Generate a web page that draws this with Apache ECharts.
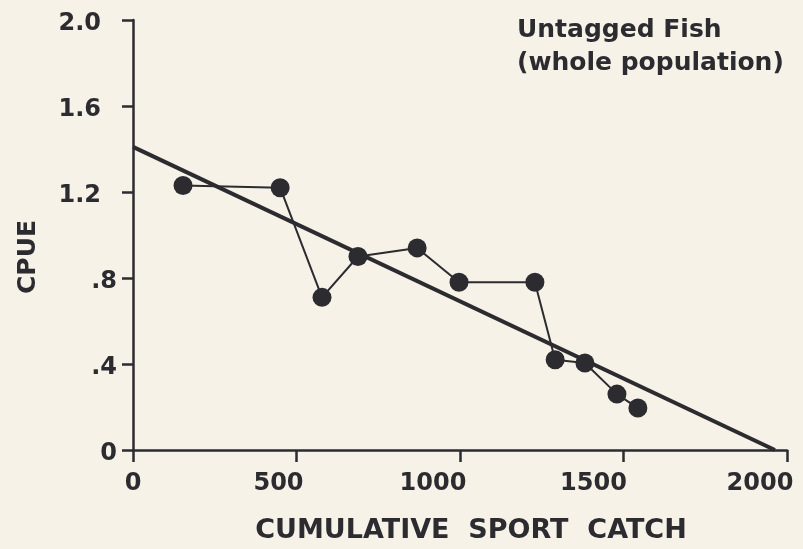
<!DOCTYPE html>
<html>
<head>
<meta charset="utf-8">
<script src="https://cdn.jsdelivr.net/npm/echarts@6/dist/echarts.min.js"></script>
<style>
  html, body { margin: 0; padding: 0; background: #f6f2e8; }
  #chart { width: 803px; height: 549px; }
</style>
</head>
<body>
<div id="chart"></div>
<script>
// Cumulative sport catch vs. catch per unit effort (untagged fish)
const cumulativeCatch = [153, 450, 578, 688, 869, 997, 1229, 1291, 1382, 1480, 1544];
const cpue = [1.23, 1.22, 0.71, 0.90, 0.94, 0.78, 0.78, 0.42, 0.405, 0.26, 0.195];

// Fitted depletion line (end points)
const fitX = [0, 1963];
const fitY = [1.41, 0];

const xTicks = ['0', '500', '1000', '1500', '2000'];
const yTicks = ['0', '.4', '.8', '1.2', '1.6', '2.0'];

const ink = '#2c2b30';
const font = 'DejaVu Sans';

// hand-lettered tick labels sit a little left of their ticks
const xLabelShift = [0, 36, 54, 60, 54];

const xRich = {};
xLabelShift.forEach((p, i) => {
  xRich['x' + i] = { fontFamily: font, fontSize: 24, color: ink, fontWeight: 'bold', padding: [0, p, 0, 0] };
});

const chart = echarts.init(document.getElementById('chart'), null, { renderer: 'canvas' });

chart.setOption({
  backgroundColor: '#f6f2e8',
  animation: false,
  title: {
    text: 'Untagged Fish\n(whole population)',
    left: 512,
    top: 9,
    textStyle: {
      fontFamily: font,
      fontSize: 25,
      fontWeight: 'bold',
      color: ink,
      lineHeight: 33
    }
  },
  grid: { left: 133, right: 16, top: 20, bottom: 99, containLabel: false },
  xAxis: {
    type: 'value',
    min: 0, max: 2000, interval: 500,
    name: 'CUMULATIVE  SPORT  CATCH',
    nameLocation: 'middle',
    nameGap: 67,
    nameTextStyle: {
      fontFamily: font, fontSize: 27, fontWeight: 'bold', color: ink,
      padding: [0, 0, 0, 22]
    },
    axisLine: { lineStyle: { color: ink, width: 2.5 } },
    axisTick: { show: true, length: 12, lineStyle: { color: ink, width: 2.5 } },
    splitLine: { show: false },
    axisLabel: {
      margin: 22,
      formatter: function (v) {
        const i = Math.round(v / 500);
        return '{x' + i + '|' + xTicks[i] + '}';
      },
      rich: xRich
    }
  },
  yAxis: {
    type: 'value',
    min: 0, max: 2.0, interval: 0.4,
    name: 'CPUE',
    nameLocation: 'middle',
    nameGap: 92,
    nameRotate: 90,
    nameTextStyle: {
      fontFamily: font, fontSize: 25, fontWeight: 'bold', color: ink,
      padding: [0, 44, 0, 0]
    },
    axisLine: { show: true, lineStyle: { color: ink, width: 2.5 } },
    axisTick: { show: true, length: 11, lineStyle: { color: ink, width: 2.5 } },
    splitLine: { show: false },
    axisLabel: {
      margin: 16,
      formatter: function (v) {
        const t = yTicks[Math.round(v / 0.4)];
        return v >= 1.2 - 1e-9 ? '{w|' + t + '}' : '{n|' + t + '}';
      },
      rich: {
        n: { fontFamily: font, fontSize: 24, color: ink, fontWeight: 'bold', padding: [8, 0, 0, 0] },
        w: { fontFamily: font, fontSize: 24, color: ink, fontWeight: 'bold', padding: [8, 16, 0, 0] }
      }
    }
  },
  series: [
    {
      type: 'line',
      data: fitX.map((x, i) => [x, fitY[i]]),
      symbol: 'none',
      lineStyle: { color: ink, width: 4 },
      z: 2
    },
    {
      type: 'line',
      data: cumulativeCatch.map((x, i) => [x, cpue[i]]),
      symbol: 'circle',
      symbolSize: 19,
      showAllSymbol: true,
      lineStyle: { color: ink, width: 2 },
      itemStyle: { color: ink },
      z: 3
    }
  ]
});
</script>
</body>
</html>
